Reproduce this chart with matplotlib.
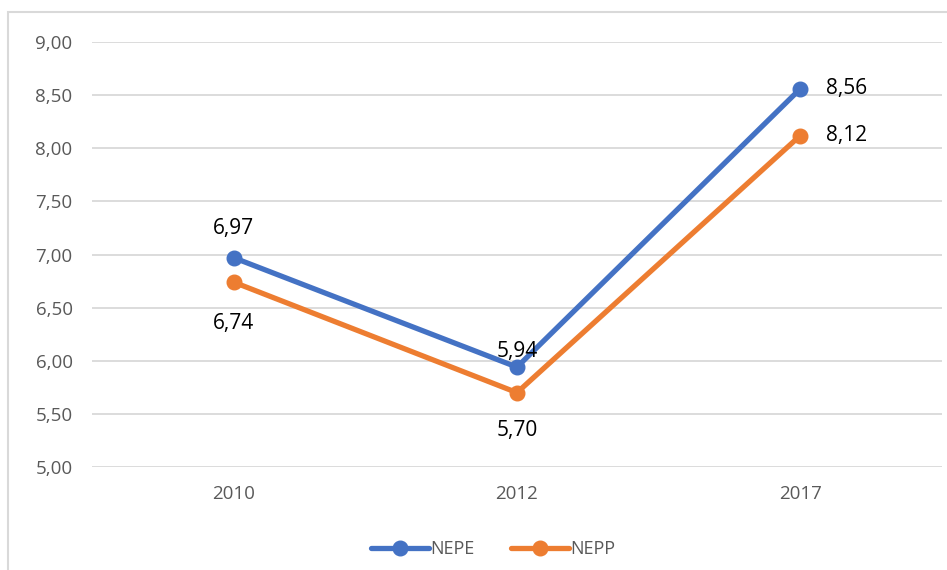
import matplotlib.pyplot as plt
from matplotlib.patches import Rectangle

years = ["2010", "2012", "2017"]
nepe = [6.97, 5.94, 8.56]
nepp = [6.74, 5.70, 8.12]

blue = "#4472C4"
orange = "#ED7D31"

plt.rcParams['font.family'] = ['Open Sans', 'DejaVu Sans']

fig = plt.figure(figsize=(9.47, 5.7), dpi=100)
ax = fig.add_axes([0.0971, 0.1807, 0.8976, 0.7456])

x = range(len(years))
ax.plot(x, nepe, color=blue, lw=3.8, marker="o", ms=10.5, label="NEPE", solid_capstyle="round")
ax.plot(x, nepp, color=orange, lw=3.8, marker="o", ms=10.5, label="NEPP", solid_capstyle="round")

def fmt(v):
    return f"{v:.2f}".replace(".", ",")

# label offsets (points): above/below/right as in the reference
off_nepe = [(0, 21), (0, 11), (33, 0)]
off_nepp = [(0, -30), (0, -27), (33, 0)]
for i, v in enumerate(nepe):
    ax.annotate(fmt(v), (i, v), xytext=off_nepe[i], textcoords="offset points",
                ha="center", va="center", fontsize=15, color="#000000")
for i, v in enumerate(nepp):
    ax.annotate(fmt(v), (i, v), xytext=off_nepp[i], textcoords="offset points",
                ha="center", va="center", fontsize=15, color="#000000")

ax.set_xlim(-0.5, 2.5)
ax.set_ylim(5, 9)
ax.set_yticks([5 + 0.5 * k for k in range(9)])
ax.set_yticklabels([fmt(5 + 0.5 * k) for k in range(9)])
ax.set_xticks(list(x))
ax.set_xticklabels(years)
ax.tick_params(length=0, labelsize=13.5, colors="#595959")
ax.tick_params(axis="y", pad=14)
ax.tick_params(axis="x", pad=13)
ax.grid(axis="y", color="#D9D9D9", lw=1.3)
ax.set_axisbelow(True)
for s in ax.spines.values():
    s.set_visible(False)

ax.legend(loc="center", bbox_to_anchor=(0.472, -0.193), ncol=2, frameon=False,
          fontsize=13, handlelength=3.2, handletextpad=0.1, columnspacing=2.0,
          labelcolor="#595959")

fig.patches.append(Rectangle((8 / 947, -0.1), 1.1, 1 - 12 / 570 + 0.1,
                             transform=fig.transFigure, fill=False,
                             edgecolor="#D9D9D9", lw=1.5))

fig.savefig("out.png", dpi=100)
